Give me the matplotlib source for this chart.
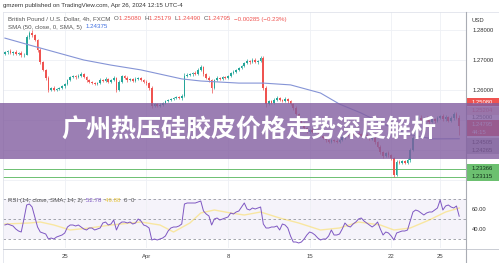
import matplotlib
matplotlib.use('Agg')
import matplotlib.pyplot as plt
from matplotlib.patches import Rectangle
from matplotlib.lines import Line2D
import numpy as np

# ---- data (GBPUSD 4h, FXCM) ----
first_open = 1.2720
closes = [
    1.2725, 1.2730, 1.2722, 1.2728, 1.2720, 1.2724, 1.2715, 1.2718, 1.2775, 1.2790,
    1.2783, 1.2767, 1.2733, 1.2693, 1.2667, 1.2640, 1.2600, 1.2607, 1.2600, 1.2603,
    1.2607, 1.2613, 1.2620, 1.2633, 1.2643, 1.2647, 1.2643, 1.2647, 1.2653, 1.2643,
    1.2633, 1.2627, 1.2623, 1.2620, 1.2623, 1.2633, 1.2630, 1.2637, 1.2627, 1.2633,
    1.2640, 1.2600, 1.2627, 1.2647, 1.2640, 1.2633, 1.2637, 1.2630, 1.2637, 1.2640,
    1.2633, 1.2627, 1.2623, 1.2607, 1.2547, 1.2553, 1.2547, 1.2550, 1.2557, 1.2563,
    1.2567, 1.2570, 1.2573, 1.2577, 1.2573, 1.2580, 1.2647, 1.2650, 1.2653, 1.2657,
    1.2653, 1.2667, 1.2677, 1.2653, 1.2640, 1.2633, 1.2607, 1.2633, 1.2640, 1.2637,
    1.2643, 1.2640, 1.2647, 1.2657, 1.2660, 1.2667, 1.2673, 1.2680, 1.2690, 1.2697,
    1.2693, 1.2700, 1.2693, 1.2697, 1.2707, 1.2607, 1.2553, 1.2563, 1.2557, 1.2567,
    1.2573, 1.2567, 1.2563, 1.2570, 1.2563, 1.2553, 1.2540, 1.2520, 1.2500, 1.2487,
    1.2473, 1.2460, 1.2467, 1.2460, 1.2467, 1.2457, 1.2447, 1.2440, 1.2433, 1.2427,
    1.2433, 1.2430, 1.2427, 1.2433, 1.2443, 1.2450, 1.2447, 1.2453, 1.2450, 1.2457,
    1.2453, 1.2447, 1.2450, 1.2443, 1.2437, 1.2440, 1.2427, 1.2410, 1.2393, 1.2380,
    1.2390, 1.2383, 1.2373, 1.2317, 1.2360, 1.2357, 1.2363, 1.2357, 1.2367, 1.2400,
    1.2440, 1.2493, 1.2507, 1.2500, 1.2507, 1.2500, 1.2493, 1.2503, 1.2497, 1.2507,
    1.2513, 1.2503, 1.2510, 1.2497, 1.2507, 1.2520, 1.2508, 1.24795,
]
# wick lengths above / below the body, in pips
wick_up = [
    4, 3, 5, 3, 4, 3, 5, 4, 8, 6,
    10, 5, 4, 6, 5, 4, 6, 4, 5, 3,
    4, 5, 4, 3, 5, 4, 3, 6, 8, 4,
    3, 4, 3, 5, 4, 6, 3, 5, 4, 3,
    5, 4, 6, 3, 4, 5, 3, 4, 5, 3,
    4, 3, 5, 4, 6, 3, 4, 5, 3, 4,
    3, 4, 5, 3, 4, 6, 8, 5, 4, 3,
    5, 6, 7, 4, 3, 5, 4, 3, 5, 4,
    3, 5, 4, 3, 6, 4, 5, 3, 4, 5,
    4, 6, 5, 4, 6, 6, 5, 4, 3, 5,
    6, 4, 3, 5, 4, 3, 4, 5, 3, 4,
    5, 3, 4, 6, 3, 4, 5, 4, 3, 5,
    4, 3, 5, 4, 6, 3, 4, 5, 4, 3,
    5, 4, 3, 6, 4, 5, 3, 4, 5, 4,
    3, 6, 5, 4, 8, 6, 5, 3, 6, 8,
    7, 5, 6, 8, 4, 6, 9, 5, 4, 7,
    5, 6, 8, 4, 7, 5, 6, 10,
]
wick_dn = [
    3, 4, 3, 5, 4, 3, 6, 4, 3, 5,
    6, 5, 6, 8, 5, 6, 8, 4, 5, 4,
    3, 4, 5, 3, 4, 3, 5, 4, 3, 4,
    5, 3, 4, 3, 5, 4, 3, 4, 5, 3,
    4, 6, 5, 3, 4, 5, 3, 4, 3, 5,
    4, 3, 5, 6, 8, 4, 5, 3, 4, 3,
    4, 3, 5, 4, 3, 5, 4, 3, 4, 5,
    3, 4, 5, 6, 4, 5, 17, 4, 3, 5,
    4, 3, 5, 4, 3, 4, 5, 3, 4, 3,
    5, 4, 3, 5, 4, 8, 10, 4, 5, 3,
    4, 5, 3, 4, 5, 4, 6, 5, 4, 5,
    6, 5, 3, 4, 5, 4, 5, 4, 6, 4,
    3, 5, 4, 3, 4, 5, 3, 4, 5, 3,
    4, 5, 3, 4, 5, 3, 6, 5, 6, 8,
    4, 5, 6, 7, 4, 5, 3, 4, 5, 6,
    5, 4, 6, 5, 4, 6, 5, 4, 6, 5,
    4, 6, 5, 4, 5, 6, 4, 30,
]
# SMA(50) of close, read at a few bars
sma_idx = [0, 9, 29, 39, 50, 60, 65, 72, 86, 95, 105, 116, 123, 131, 139, 148, 157, 167]
sma_val = [1.2773, 1.2750, 1.2700, 1.2683, 1.2667, 1.2647, 1.2637, 1.2630, 1.2623, 1.2623,
           1.2617, 1.2590, 1.2553, 1.2523, 1.2487, 1.2453, 1.2437, 1.24375]
support_levels = [1.23366, 1.23115]

rsi = [
    44, 45, 44, 43, 40, 38, 37, 50, 64, 65,
    62, 52, 42, 37, 36, 35, 30, 31, 30, 32,
    33, 34, 36, 42, 44, 44, 43, 44, 42, 40,
    39, 41, 41, 39, 40, 41, 46, 47, 44, 45,
    49, 39, 45, 47, 47, 46, 47, 45, 46, 50,
    48, 44, 43, 41, 29, 30, 29, 30, 31, 33,
    38, 41, 42, 42, 43, 45, 65, 66, 66, 66,
    66, 67, 68, 58, 55, 53, 44, 50, 51, 49,
    50, 51, 52, 56, 55, 57, 58, 62, 66, 60,
    59, 61, 60, 61, 62, 45, 41, 41, 42, 42,
    43, 39, 45, 44, 41, 33, 27, 27, 26, 27,
    30, 34, 37, 36, 34, 31, 29, 30, 30, 33,
    39, 34, 34, 35, 40, 46, 43, 42, 45, 47,
    50, 51, 48, 46, 44, 42, 44, 47, 40, 34,
    37, 36, 33, 29, 36, 37, 38, 38, 39, 48,
    57, 59, 58, 56, 54, 56, 57, 57, 59, 61,
    69, 59, 63, 64, 62, 61, 63, 52.78,
]
rsi_ma_idx = [0, 9, 13, 18, 24, 31, 39, 50, 57, 62, 68, 72, 77, 83, 88, 94, 101, 108,
              116, 123, 130, 138, 143, 149, 156, 162, 167]
rsi_ma_val = [45, 46, 47, 44, 39, 41, 44, 47, 44, 37, 46, 56, 59, 56, 54, 57, 51, 46,
              39, 41, 47, 44, 39, 41, 49, 57, 61]

date_idx = [22, 52, 82, 112, 142, 160]
date_lbl = ['25', 'Apr', '8', '15', '22', '25']
price_ticks = [1.23, 1.24, 1.25, 1.26, 1.27, 1.28]
price_lbls = [1.26, 1.27, 1.28]

title = '广州热压硅胶皮价格走势深度解析'

# ---- styling ----
GREEN = '#26a69a'
RED = '#ef5350'
UI = 'Liberation Sans'
HDR = 4.45
W, H = 499, 263


def fx(x):
    return x / W


def fy(y):
    return 1 - y / H


def rect(x0, y0, x1, y1):
    return [fx(x0), fy(y1), (x1 - x0) / W, (y1 - y0) / H]


def text_run(fig, x, y, parts, size):
    # lay out coloured pieces of one header line side by side
    r = fig.canvas.get_renderer()
    for s, col in parts:
        t = fig.text(fx(x), fy(y), s, color=col, fontsize=size, family=UI,
                     ha='left', va='center')
        x += t.get_window_extent(renderer=r).width


fig = plt.figure(figsize=(W / 100, H / 100), dpi=100)
fig.patch.set_facecolor('white')

ax = fig.add_axes(rect(3, 12, 466, 191))
ra = fig.add_axes(rect(3, 191, 466, 248), sharex=ax)

n = len(closes)
idx = np.arange(n)
c = np.array(closes)
o = np.r_[first_open, c[:-1]]
hi = np.maximum(o, c) + np.array(wick_up) * 1e-4
lo = np.minimum(o, c) - np.array(wick_dn) * 1e-4
col = np.where(c >= o, GREEN, RED)

ax.vlines(idx, lo, hi, colors=col, lw=0.5, zorder=3)
ax.bar(idx, c - o, bottom=o, width=0.62, color=col, linewidth=0, zorder=4)
ax.plot(sma_idx, sma_val, color='#8594d6', lw=0.8, zorder=5)
for lv in support_levels:
    ax.axhline(lv, color='#6cc070', lw=0.7, zorder=2)

ax.set_xlim(-0.7, 169.5)
ax.set_ylim(1.22633, 1.2860)
ax.set_yticks(price_ticks)
ax.set_yticklabels([f'{v:.5f}' if v in price_lbls else '' for v in price_ticks])
ax.yaxis.tick_right()
ax.tick_params(axis='y', length=0, pad=4.5, labelsize=4.2, labelcolor='#333')
ax.tick_params(axis='x', length=0, labelbottom=False)
for lab in ax.get_yticklabels():
    lab.set_family(UI)
ax.set_xticks(date_idx)
ax.grid(color='#eef0f5', lw=0.6, zorder=0)

ra.axhspan(30, 70, color='#7e57c2', alpha=0.07, lw=0)
for lv in (70, 50, 30):
    ra.axhline(lv, color='#9598a1', lw=0.6, ls=(0, (3, 3)))
ra.plot(rsi_ma_idx, rsi_ma_val, color='#fdd835', alpha=0.45, lw=1.0)
ra.plot(idx, rsi, color='#7e57c2', lw=0.7)
ra.set_ylim(21, 78)
ra.set_yticks([40, 60])
ra.set_yticklabels(['40.00', '60.00'])
ra.yaxis.tick_right()
ra.set_xticks(date_idx)
ra.set_xticklabels(date_lbl)
ra.tick_params(axis='y', length=0, pad=4.5, labelsize=4.2, labelcolor='#333')
ra.tick_params(axis='x', length=0, pad=4.5, labelsize=4.3, labelcolor='#444')
for lab in ra.get_yticklabels() + ra.get_xticklabels():
    lab.set_family(UI)
ra.grid(axis='x', color='#eef0f5', lw=0.6)

for a in (ax, ra):
    for s in a.spines.values():
        s.set_visible(False)
    a.set_facecolor('none')

# frame and separators
for (x0, y0, x1, y1, cc, lw) in [(3, 12, 499, 12, '#e0e3eb', 0.6),
                                 (3, 12, 3, 263, '#e0e3eb', 0.6),
                                 (3, 249, 499, 249, '#c9ccd3', 0.7),
                                 (466, 12, 466, 263, '#a9acb4', 0.8)]:
    fig.add_artist(Line2D([fx(x0), fx(x1)], [fy(y0), fy(y1)], color=cc, lw=lw, zorder=5))

# headers
text_run(fig, 3, 6, [('gmzern published on TradingView.com, Apr 26, 2024 12:15 UTC-4', '#333')], HDR)
text_run(fig, 8, 19, [('British Pound / U.S. Dollar, 4h, FXCM  ', '#555'),
                      ('O', '#555'), ('1.25080  ', RED), ('H', '#555'), ('1.25179  ', RED),
                      ('L', '#555'), ('1.24490  ', RED), ('C', '#555'), ('1.24795  ', RED),
                      ('\u22120.00285 (\u22120.23%)', RED)], HDR)
text_run(fig, 8, 27, [('SMA (50, close, 0, SMA, 5)  ', '#555'), ('1.24375', '#3f6fe0')], HDR)
text_run(fig, 8, 200.5, [('RSI (14, close, SMA, 14, 2)  ', '#555'), ('52.78  ', '#7e57c2'),
                         ('49.88  ', '#e8c53a'), ('0  ', '#555'), ('0', '#555')], HDR)

# price-scale labels
fig.text(fx(471), fy(20), 'USD', fontsize=4.2, family=UI, color='#333', va='center')
scale_tags = [('1.25080', 102, RED, 'white'),
              ('1.25204', 111, '#f6d5d4', '#e06666'),
              ('1.25000', 117.5, None, '#555'),
              ('1.24795', 124, RED, 'white'),
              ('44:15', 132, RED, 'white'),
              ('1.24505', 142, '#b9bcc4', '#222'),
              ('1.24265', 150, '#b9bcc4', '#222'),
              ('1.23366', 168.5, '#6cc070', '#12301a'),
              ('1.23115', 177, '#6cc070', '#12301a')]
for s, yy, fc, tc in scale_tags:
    if fc:
        fig.add_artist(Rectangle((fx(467), fy(yy + 4.3)), fx(32), 8.6 / H,
                                 transform=fig.transFigure, fc=fc, ec='none', zorder=4))
    fig.text(fx(472), fy(yy), s, fontsize=4.2, family=UI, color=tc, va='center', zorder=6)

# purple banner with the headline
fig.add_artist(Rectangle((0, fy(159)), 1, 56 / H, transform=fig.transFigure,
                         fc='#825ea0', ec='none', alpha=0.8, zorder=10))
fig.text(fx(249), fy(131), title, fontsize=18, fontweight='bold', color='white',
         family=['Noto Sans CJK SC', 'DejaVu Sans'], ha='center', va='center', zorder=11)

fig.savefig('out.png', dpi=100)
